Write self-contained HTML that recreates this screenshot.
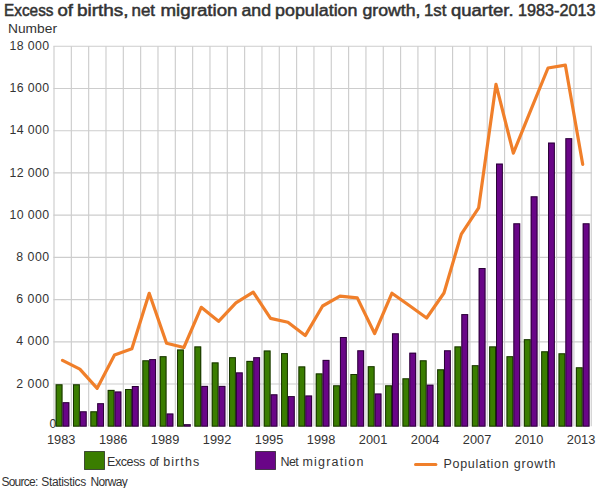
<!DOCTYPE html>
<html><head><meta charset="utf-8"><style>
html,body{margin:0;padding:0;background:#fff;}
body{width:610px;height:488px;overflow:hidden;position:relative;}
svg{position:absolute;left:0;top:0;}
text{font-family:"Liberation Sans",sans-serif;fill:#333333;stroke:#333333;stroke-width:0px;}
</style></head><body>
<svg width="610" height="488" viewBox="0 0 610 488">
<rect x="0" y="0" width="610" height="488" fill="#fff"/>
<line x1="53.40" y1="384.03" x2="591.83" y2="384.03" stroke="#cdcdcd" stroke-width="1.15"/>
<line x1="53.40" y1="341.81" x2="591.83" y2="341.81" stroke="#cdcdcd" stroke-width="1.15"/>
<line x1="53.40" y1="299.58" x2="591.83" y2="299.58" stroke="#cdcdcd" stroke-width="1.15"/>
<line x1="53.40" y1="257.36" x2="591.83" y2="257.36" stroke="#cdcdcd" stroke-width="1.15"/>
<line x1="53.40" y1="215.14" x2="591.83" y2="215.14" stroke="#cdcdcd" stroke-width="1.15"/>
<line x1="53.40" y1="172.92" x2="591.83" y2="172.92" stroke="#cdcdcd" stroke-width="1.15"/>
<line x1="53.40" y1="130.70" x2="591.83" y2="130.70" stroke="#cdcdcd" stroke-width="1.15"/>
<line x1="53.40" y1="88.47" x2="591.83" y2="88.47" stroke="#cdcdcd" stroke-width="1.15"/>
<line x1="53.40" y1="46.25" x2="591.83" y2="46.25" stroke="#cdcdcd" stroke-width="1.15"/>
<line x1="54.00" y1="46.25" x2="54.00" y2="426.25" stroke="#cdcdcd" stroke-width="1.15"/>
<line x1="71.33" y1="46.25" x2="71.33" y2="426.25" stroke="#cdcdcd" stroke-width="1.15"/>
<line x1="88.66" y1="46.25" x2="88.66" y2="426.25" stroke="#cdcdcd" stroke-width="1.15"/>
<line x1="105.99" y1="46.25" x2="105.99" y2="426.25" stroke="#cdcdcd" stroke-width="1.15"/>
<line x1="123.32" y1="46.25" x2="123.32" y2="426.25" stroke="#cdcdcd" stroke-width="1.15"/>
<line x1="140.65" y1="46.25" x2="140.65" y2="426.25" stroke="#cdcdcd" stroke-width="1.15"/>
<line x1="157.98" y1="46.25" x2="157.98" y2="426.25" stroke="#cdcdcd" stroke-width="1.15"/>
<line x1="175.31" y1="46.25" x2="175.31" y2="426.25" stroke="#cdcdcd" stroke-width="1.15"/>
<line x1="192.64" y1="46.25" x2="192.64" y2="426.25" stroke="#cdcdcd" stroke-width="1.15"/>
<line x1="209.97" y1="46.25" x2="209.97" y2="426.25" stroke="#cdcdcd" stroke-width="1.15"/>
<line x1="227.30" y1="46.25" x2="227.30" y2="426.25" stroke="#cdcdcd" stroke-width="1.15"/>
<line x1="244.63" y1="46.25" x2="244.63" y2="426.25" stroke="#cdcdcd" stroke-width="1.15"/>
<line x1="261.96" y1="46.25" x2="261.96" y2="426.25" stroke="#cdcdcd" stroke-width="1.15"/>
<line x1="279.29" y1="46.25" x2="279.29" y2="426.25" stroke="#cdcdcd" stroke-width="1.15"/>
<line x1="296.62" y1="46.25" x2="296.62" y2="426.25" stroke="#cdcdcd" stroke-width="1.15"/>
<line x1="313.95" y1="46.25" x2="313.95" y2="426.25" stroke="#cdcdcd" stroke-width="1.15"/>
<line x1="331.28" y1="46.25" x2="331.28" y2="426.25" stroke="#cdcdcd" stroke-width="1.15"/>
<line x1="348.61" y1="46.25" x2="348.61" y2="426.25" stroke="#cdcdcd" stroke-width="1.15"/>
<line x1="365.94" y1="46.25" x2="365.94" y2="426.25" stroke="#cdcdcd" stroke-width="1.15"/>
<line x1="383.27" y1="46.25" x2="383.27" y2="426.25" stroke="#cdcdcd" stroke-width="1.15"/>
<line x1="400.60" y1="46.25" x2="400.60" y2="426.25" stroke="#cdcdcd" stroke-width="1.15"/>
<line x1="417.93" y1="46.25" x2="417.93" y2="426.25" stroke="#cdcdcd" stroke-width="1.15"/>
<line x1="435.26" y1="46.25" x2="435.26" y2="426.25" stroke="#cdcdcd" stroke-width="1.15"/>
<line x1="452.59" y1="46.25" x2="452.59" y2="426.25" stroke="#cdcdcd" stroke-width="1.15"/>
<line x1="469.92" y1="46.25" x2="469.92" y2="426.25" stroke="#cdcdcd" stroke-width="1.15"/>
<line x1="487.25" y1="46.25" x2="487.25" y2="426.25" stroke="#cdcdcd" stroke-width="1.15"/>
<line x1="504.58" y1="46.25" x2="504.58" y2="426.25" stroke="#cdcdcd" stroke-width="1.15"/>
<line x1="521.91" y1="46.25" x2="521.91" y2="426.25" stroke="#cdcdcd" stroke-width="1.15"/>
<line x1="539.24" y1="46.25" x2="539.24" y2="426.25" stroke="#cdcdcd" stroke-width="1.15"/>
<line x1="556.57" y1="46.25" x2="556.57" y2="426.25" stroke="#cdcdcd" stroke-width="1.15"/>
<line x1="573.90" y1="46.25" x2="573.90" y2="426.25" stroke="#cdcdcd" stroke-width="1.15"/>
<line x1="591.23" y1="46.25" x2="591.23" y2="426.25" stroke="#cdcdcd" stroke-width="1.15"/>
<g font-size="12.3">
<text x="49.6" y="428.1">0</text>
<text x="49.2" y="387.6" text-anchor="end" textLength="33.0" lengthAdjust="spacing">2 000</text>
<text x="49.2" y="345.4" text-anchor="end" textLength="33.0" lengthAdjust="spacing">4 000</text>
<text x="49.2" y="303.2" text-anchor="end" textLength="33.0" lengthAdjust="spacing">6 000</text>
<text x="49.2" y="261.0" text-anchor="end" textLength="33.0" lengthAdjust="spacing">8 000</text>
<text x="49.2" y="218.7" text-anchor="end" textLength="39.8" lengthAdjust="spacing">10 000</text>
<text x="49.2" y="176.5" text-anchor="end" textLength="39.8" lengthAdjust="spacing">12 000</text>
<text x="49.2" y="134.3" text-anchor="end" textLength="39.8" lengthAdjust="spacing">14 000</text>
<text x="49.2" y="92.1" text-anchor="end" textLength="39.8" lengthAdjust="spacing">16 000</text>
<text x="49.2" y="49.9" text-anchor="end" textLength="39.8" lengthAdjust="spacing">18 000</text>
</g>
<rect x="55.65" y="384.30" width="6.85" height="42.35" fill="#3a7d00"/>
<rect x="56.15" y="384.80" width="5.85" height="41.35" fill="none" stroke="rgba(0,0,0,0.6)" stroke-width="1"/>
<rect x="62.50" y="402.20" width="6.85" height="24.45" fill="#690587"/>
<rect x="63.00" y="402.70" width="5.85" height="23.45" fill="none" stroke="rgba(0,0,0,0.6)" stroke-width="1"/>
<rect x="72.99" y="384.30" width="6.85" height="42.35" fill="#3a7d00"/>
<rect x="73.49" y="384.80" width="5.85" height="41.35" fill="none" stroke="rgba(0,0,0,0.6)" stroke-width="1"/>
<rect x="79.84" y="411.30" width="6.85" height="15.35" fill="#690587"/>
<rect x="80.34" y="411.80" width="5.85" height="14.35" fill="none" stroke="rgba(0,0,0,0.6)" stroke-width="1"/>
<rect x="90.33" y="411.30" width="6.85" height="15.35" fill="#3a7d00"/>
<rect x="90.83" y="411.80" width="5.85" height="14.35" fill="none" stroke="rgba(0,0,0,0.6)" stroke-width="1"/>
<rect x="97.18" y="403.20" width="6.85" height="23.45" fill="#690587"/>
<rect x="97.68" y="403.70" width="5.85" height="22.45" fill="none" stroke="rgba(0,0,0,0.6)" stroke-width="1"/>
<rect x="107.67" y="389.90" width="6.85" height="36.75" fill="#3a7d00"/>
<rect x="108.17" y="390.40" width="5.85" height="35.75" fill="none" stroke="rgba(0,0,0,0.6)" stroke-width="1"/>
<rect x="114.52" y="391.50" width="6.85" height="35.15" fill="#690587"/>
<rect x="115.02" y="392.00" width="5.85" height="34.15" fill="none" stroke="rgba(0,0,0,0.6)" stroke-width="1"/>
<rect x="125.01" y="389.00" width="6.85" height="37.65" fill="#3a7d00"/>
<rect x="125.51" y="389.50" width="5.85" height="36.65" fill="none" stroke="rgba(0,0,0,0.6)" stroke-width="1"/>
<rect x="131.86" y="386.00" width="6.85" height="40.65" fill="#690587"/>
<rect x="132.36" y="386.50" width="5.85" height="39.65" fill="none" stroke="rgba(0,0,0,0.6)" stroke-width="1"/>
<rect x="142.35" y="360.30" width="6.85" height="66.35" fill="#3a7d00"/>
<rect x="142.85" y="360.80" width="5.85" height="65.35" fill="none" stroke="rgba(0,0,0,0.6)" stroke-width="1"/>
<rect x="149.20" y="359.10" width="6.85" height="67.55" fill="#690587"/>
<rect x="149.70" y="359.60" width="5.85" height="66.55" fill="none" stroke="rgba(0,0,0,0.6)" stroke-width="1"/>
<rect x="159.69" y="356.20" width="6.85" height="70.45" fill="#3a7d00"/>
<rect x="160.19" y="356.70" width="5.85" height="69.45" fill="none" stroke="rgba(0,0,0,0.6)" stroke-width="1"/>
<rect x="166.54" y="413.50" width="6.85" height="13.15" fill="#690587"/>
<rect x="167.04" y="414.00" width="5.85" height="12.15" fill="none" stroke="rgba(0,0,0,0.6)" stroke-width="1"/>
<rect x="177.03" y="349.50" width="6.85" height="77.15" fill="#3a7d00"/>
<rect x="177.53" y="350.00" width="5.85" height="76.15" fill="none" stroke="rgba(0,0,0,0.6)" stroke-width="1"/>
<rect x="183.88" y="424.20" width="6.85" height="2.45" fill="#690587"/>
<rect x="184.38" y="424.70" width="5.85" height="1.45" fill="none" stroke="rgba(0,0,0,0.6)" stroke-width="1"/>
<rect x="194.37" y="346.40" width="6.85" height="80.25" fill="#3a7d00"/>
<rect x="194.87" y="346.90" width="5.85" height="79.25" fill="none" stroke="rgba(0,0,0,0.6)" stroke-width="1"/>
<rect x="201.22" y="385.90" width="6.85" height="40.75" fill="#690587"/>
<rect x="201.72" y="386.40" width="5.85" height="39.75" fill="none" stroke="rgba(0,0,0,0.6)" stroke-width="1"/>
<rect x="211.71" y="362.40" width="6.85" height="64.25" fill="#3a7d00"/>
<rect x="212.21" y="362.90" width="5.85" height="63.25" fill="none" stroke="rgba(0,0,0,0.6)" stroke-width="1"/>
<rect x="218.56" y="385.90" width="6.85" height="40.75" fill="#690587"/>
<rect x="219.06" y="386.40" width="5.85" height="39.75" fill="none" stroke="rgba(0,0,0,0.6)" stroke-width="1"/>
<rect x="229.05" y="357.20" width="6.85" height="69.45" fill="#3a7d00"/>
<rect x="229.55" y="357.70" width="5.85" height="68.45" fill="none" stroke="rgba(0,0,0,0.6)" stroke-width="1"/>
<rect x="235.90" y="372.40" width="6.85" height="54.25" fill="#690587"/>
<rect x="236.40" y="372.90" width="5.85" height="53.25" fill="none" stroke="rgba(0,0,0,0.6)" stroke-width="1"/>
<rect x="246.39" y="360.90" width="6.85" height="65.75" fill="#3a7d00"/>
<rect x="246.89" y="361.40" width="5.85" height="64.75" fill="none" stroke="rgba(0,0,0,0.6)" stroke-width="1"/>
<rect x="253.24" y="357.20" width="6.85" height="69.45" fill="#690587"/>
<rect x="253.74" y="357.70" width="5.85" height="68.45" fill="none" stroke="rgba(0,0,0,0.6)" stroke-width="1"/>
<rect x="263.73" y="350.50" width="6.85" height="76.15" fill="#3a7d00"/>
<rect x="264.23" y="351.00" width="5.85" height="75.15" fill="none" stroke="rgba(0,0,0,0.6)" stroke-width="1"/>
<rect x="270.58" y="394.30" width="6.85" height="32.35" fill="#690587"/>
<rect x="271.08" y="394.80" width="5.85" height="31.35" fill="none" stroke="rgba(0,0,0,0.6)" stroke-width="1"/>
<rect x="281.07" y="353.10" width="6.85" height="73.55" fill="#3a7d00"/>
<rect x="281.57" y="353.60" width="5.85" height="72.55" fill="none" stroke="rgba(0,0,0,0.6)" stroke-width="1"/>
<rect x="287.92" y="396.10" width="6.85" height="30.55" fill="#690587"/>
<rect x="288.42" y="396.60" width="5.85" height="29.55" fill="none" stroke="rgba(0,0,0,0.6)" stroke-width="1"/>
<rect x="298.41" y="366.40" width="6.85" height="60.25" fill="#3a7d00"/>
<rect x="298.91" y="366.90" width="5.85" height="59.25" fill="none" stroke="rgba(0,0,0,0.6)" stroke-width="1"/>
<rect x="305.26" y="395.50" width="6.85" height="31.15" fill="#690587"/>
<rect x="305.76" y="396.00" width="5.85" height="30.15" fill="none" stroke="rgba(0,0,0,0.6)" stroke-width="1"/>
<rect x="315.75" y="373.40" width="6.85" height="53.25" fill="#3a7d00"/>
<rect x="316.25" y="373.90" width="5.85" height="52.25" fill="none" stroke="rgba(0,0,0,0.6)" stroke-width="1"/>
<rect x="322.60" y="359.90" width="6.85" height="66.75" fill="#690587"/>
<rect x="323.10" y="360.40" width="5.85" height="65.75" fill="none" stroke="rgba(0,0,0,0.6)" stroke-width="1"/>
<rect x="333.09" y="385.30" width="6.85" height="41.35" fill="#3a7d00"/>
<rect x="333.59" y="385.80" width="5.85" height="40.35" fill="none" stroke="rgba(0,0,0,0.6)" stroke-width="1"/>
<rect x="339.94" y="337.00" width="6.85" height="89.65" fill="#690587"/>
<rect x="340.44" y="337.50" width="5.85" height="88.65" fill="none" stroke="rgba(0,0,0,0.6)" stroke-width="1"/>
<rect x="350.43" y="374.00" width="6.85" height="52.65" fill="#3a7d00"/>
<rect x="350.93" y="374.50" width="5.85" height="51.65" fill="none" stroke="rgba(0,0,0,0.6)" stroke-width="1"/>
<rect x="357.28" y="350.30" width="6.85" height="76.35" fill="#690587"/>
<rect x="357.78" y="350.80" width="5.85" height="75.35" fill="none" stroke="rgba(0,0,0,0.6)" stroke-width="1"/>
<rect x="367.77" y="366.20" width="6.85" height="60.45" fill="#3a7d00"/>
<rect x="368.27" y="366.70" width="5.85" height="59.45" fill="none" stroke="rgba(0,0,0,0.6)" stroke-width="1"/>
<rect x="374.62" y="393.50" width="6.85" height="33.15" fill="#690587"/>
<rect x="375.12" y="394.00" width="5.85" height="32.15" fill="none" stroke="rgba(0,0,0,0.6)" stroke-width="1"/>
<rect x="385.11" y="385.30" width="6.85" height="41.35" fill="#3a7d00"/>
<rect x="385.61" y="385.80" width="5.85" height="40.35" fill="none" stroke="rgba(0,0,0,0.6)" stroke-width="1"/>
<rect x="391.96" y="333.30" width="6.85" height="93.35" fill="#690587"/>
<rect x="392.46" y="333.80" width="5.85" height="92.35" fill="none" stroke="rgba(0,0,0,0.6)" stroke-width="1"/>
<rect x="402.45" y="378.30" width="6.85" height="48.35" fill="#3a7d00"/>
<rect x="402.95" y="378.80" width="5.85" height="47.35" fill="none" stroke="rgba(0,0,0,0.6)" stroke-width="1"/>
<rect x="409.30" y="352.70" width="6.85" height="73.95" fill="#690587"/>
<rect x="409.80" y="353.20" width="5.85" height="72.95" fill="none" stroke="rgba(0,0,0,0.6)" stroke-width="1"/>
<rect x="419.79" y="360.30" width="6.85" height="66.35" fill="#3a7d00"/>
<rect x="420.29" y="360.80" width="5.85" height="65.35" fill="none" stroke="rgba(0,0,0,0.6)" stroke-width="1"/>
<rect x="426.64" y="384.70" width="6.85" height="41.95" fill="#690587"/>
<rect x="427.14" y="385.20" width="5.85" height="40.95" fill="none" stroke="rgba(0,0,0,0.6)" stroke-width="1"/>
<rect x="437.13" y="369.30" width="6.85" height="57.35" fill="#3a7d00"/>
<rect x="437.63" y="369.80" width="5.85" height="56.35" fill="none" stroke="rgba(0,0,0,0.6)" stroke-width="1"/>
<rect x="443.98" y="350.30" width="6.85" height="76.35" fill="#690587"/>
<rect x="444.48" y="350.80" width="5.85" height="75.35" fill="none" stroke="rgba(0,0,0,0.6)" stroke-width="1"/>
<rect x="454.47" y="346.40" width="6.85" height="80.25" fill="#3a7d00"/>
<rect x="454.97" y="346.90" width="5.85" height="79.25" fill="none" stroke="rgba(0,0,0,0.6)" stroke-width="1"/>
<rect x="461.32" y="314.10" width="6.85" height="112.55" fill="#690587"/>
<rect x="461.82" y="314.60" width="5.85" height="111.55" fill="none" stroke="rgba(0,0,0,0.6)" stroke-width="1"/>
<rect x="471.81" y="365.20" width="6.85" height="61.45" fill="#3a7d00"/>
<rect x="472.31" y="365.70" width="5.85" height="60.45" fill="none" stroke="rgba(0,0,0,0.6)" stroke-width="1"/>
<rect x="478.66" y="268.00" width="6.85" height="158.65" fill="#690587"/>
<rect x="479.16" y="268.50" width="5.85" height="157.65" fill="none" stroke="rgba(0,0,0,0.6)" stroke-width="1"/>
<rect x="489.15" y="346.40" width="6.85" height="80.25" fill="#3a7d00"/>
<rect x="489.65" y="346.90" width="5.85" height="79.25" fill="none" stroke="rgba(0,0,0,0.6)" stroke-width="1"/>
<rect x="496.00" y="163.60" width="6.85" height="263.05" fill="#690587"/>
<rect x="496.50" y="164.10" width="5.85" height="262.05" fill="none" stroke="rgba(0,0,0,0.6)" stroke-width="1"/>
<rect x="506.49" y="356.20" width="6.85" height="70.45" fill="#3a7d00"/>
<rect x="506.99" y="356.70" width="5.85" height="69.45" fill="none" stroke="rgba(0,0,0,0.6)" stroke-width="1"/>
<rect x="513.34" y="223.30" width="6.85" height="203.35" fill="#690587"/>
<rect x="513.84" y="223.80" width="5.85" height="202.35" fill="none" stroke="rgba(0,0,0,0.6)" stroke-width="1"/>
<rect x="523.83" y="339.20" width="6.85" height="87.45" fill="#3a7d00"/>
<rect x="524.33" y="339.70" width="5.85" height="86.45" fill="none" stroke="rgba(0,0,0,0.6)" stroke-width="1"/>
<rect x="530.68" y="196.30" width="6.85" height="230.35" fill="#690587"/>
<rect x="531.18" y="196.80" width="5.85" height="229.35" fill="none" stroke="rgba(0,0,0,0.6)" stroke-width="1"/>
<rect x="541.17" y="351.30" width="6.85" height="75.35" fill="#3a7d00"/>
<rect x="541.67" y="351.80" width="5.85" height="74.35" fill="none" stroke="rgba(0,0,0,0.6)" stroke-width="1"/>
<rect x="548.02" y="142.60" width="6.85" height="284.05" fill="#690587"/>
<rect x="548.52" y="143.10" width="5.85" height="283.05" fill="none" stroke="rgba(0,0,0,0.6)" stroke-width="1"/>
<rect x="558.51" y="353.30" width="6.85" height="73.35" fill="#3a7d00"/>
<rect x="559.01" y="353.80" width="5.85" height="72.35" fill="none" stroke="rgba(0,0,0,0.6)" stroke-width="1"/>
<rect x="565.36" y="138.20" width="6.85" height="288.45" fill="#690587"/>
<rect x="565.86" y="138.70" width="5.85" height="287.45" fill="none" stroke="rgba(0,0,0,0.6)" stroke-width="1"/>
<rect x="575.85" y="367.30" width="6.85" height="59.35" fill="#3a7d00"/>
<rect x="576.35" y="367.80" width="5.85" height="58.35" fill="none" stroke="rgba(0,0,0,0.6)" stroke-width="1"/>
<rect x="582.70" y="223.30" width="6.85" height="203.35" fill="#690587"/>
<rect x="583.20" y="223.80" width="5.85" height="202.35" fill="none" stroke="rgba(0,0,0,0.6)" stroke-width="1"/>
<polyline points="62.50,360.3 79.84,369.2 97.18,388.3 114.52,354.9 131.86,348.8 149.20,293.3 166.54,343.3 183.88,347.5 201.22,307.3 218.56,321.3 235.90,302.9 253.24,292.2 270.58,318.4 287.92,322.3 305.26,335.6 322.60,306.0 339.94,296.2 357.28,297.9 374.62,333.5 391.96,293.2 409.30,305.5 426.64,318.0 443.98,293.0 461.32,234.1 478.66,207.8 496.00,84.3 513.34,153.1 530.68,110.4 548.02,68.0 565.36,65.2 582.70,164.3" fill="none" stroke="#f07f2a" stroke-width="3.2" stroke-linejoin="round" stroke-linecap="round"/>
<rect x="84.5" y="451.5" width="20" height="18" fill="#3a7d00" stroke="rgba(0,0,0,0.6)" stroke-width="1"/>
<rect x="255.5" y="451.5" width="20" height="18" fill="#690587" stroke="rgba(0,0,0,0.6)" stroke-width="1"/>
<line x1="415.5" y1="464.4" x2="435.9" y2="464.4" stroke="#f07f2a" stroke-width="3" stroke-linecap="round"/>
<g font-size="16.3">
<text x="4.0" y="15.9" textLength="49.52" lengthAdjust="spacingAndGlyphs" style="stroke-width:0.5px">Excess</text>
<text x="57.5" y="15.9" textLength="15.53" lengthAdjust="spacingAndGlyphs" style="stroke-width:0.5px">of</text>
<text x="77.0" y="15.9" textLength="51.62" lengthAdjust="spacingAndGlyphs" style="stroke-width:0.5px">births,</text>
<text x="131.5" y="15.9" textLength="23.52" lengthAdjust="spacingAndGlyphs" style="stroke-width:0.5px">net</text>
<text x="160.5" y="15.9" textLength="77.05" lengthAdjust="spacingAndGlyphs" style="stroke-width:0.5px">migration</text>
<text x="241.5" y="15.9" textLength="29.53" lengthAdjust="spacingAndGlyphs" style="stroke-width:0.5px">and</text>
<text x="275.0" y="15.9" textLength="82.52" lengthAdjust="spacingAndGlyphs" style="stroke-width:0.5px">population</text>
<text x="362.5" y="15.9" textLength="58.03" lengthAdjust="spacingAndGlyphs" style="stroke-width:0.5px">growth,</text>
<text x="424.0" y="15.9" textLength="22.5" lengthAdjust="spacingAndGlyphs" style="stroke-width:0.5px">1st</text>
<text x="451.0" y="15.9" textLength="62.58" lengthAdjust="spacingAndGlyphs" style="stroke-width:0.5px">quarter.</text>
<text x="518.0" y="15.9" textLength="77.52" lengthAdjust="spacingAndGlyphs" style="stroke-width:0.5px">1983-2013</text>
</g>
<text x="8.0" y="33.2" font-size="12.5" textLength="49.0" lengthAdjust="spacingAndGlyphs">Number</text>
<text x="107.0" y="466.3" font-size="12.5" textLength="38.25" lengthAdjust="spacing">Excess</text>
<text x="149.62" y="466.3" font-size="12.5" textLength="9.26" lengthAdjust="spacing">of</text>
<text x="163.24" y="466.3" font-size="12.5" textLength="35.95" lengthAdjust="spacing">births</text>
<text x="280.56" y="465.9" font-size="12.5" textLength="18.07" lengthAdjust="spacing">Net</text>
<text x="302.44" y="465.9" font-size="12.5" textLength="60.94" lengthAdjust="spacing">migration</text>
<text x="443.62" y="467.7" font-size="12.5" textLength="65.0" lengthAdjust="spacing">Population</text>
<text x="513.76" y="467.7" font-size="12.5" textLength="41.62" lengthAdjust="spacing">growth</text>
<text x="1.38" y="485.7" font-size="12" textLength="36.95" lengthAdjust="spacing">Source:</text>
<text x="41.24" y="485.7" font-size="12" textLength="45.0" lengthAdjust="spacing">Statistics</text>
<text x="90.56" y="485.7" font-size="12" textLength="37.25" lengthAdjust="spacing">Norway</text>
<g font-size="12.8">
<text x="61.2" y="443.9" text-anchor="middle">1983</text>
<text x="113.2" y="443.9" text-anchor="middle">1986</text>
<text x="165.1" y="443.9" text-anchor="middle">1989</text>
<text x="217.1" y="443.9" text-anchor="middle">1992</text>
<text x="269.1" y="443.9" text-anchor="middle">1995</text>
<text x="321.1" y="443.9" text-anchor="middle">1998</text>
<text x="373.1" y="443.9" text-anchor="middle">2001</text>
<text x="425.1" y="443.9" text-anchor="middle">2004</text>
<text x="477.1" y="443.9" text-anchor="middle">2007</text>
<text x="529.1" y="443.9" text-anchor="middle">2010</text>
<text x="581.1" y="443.9" text-anchor="middle">2013</text>
</g>
</svg>
</body></html>
